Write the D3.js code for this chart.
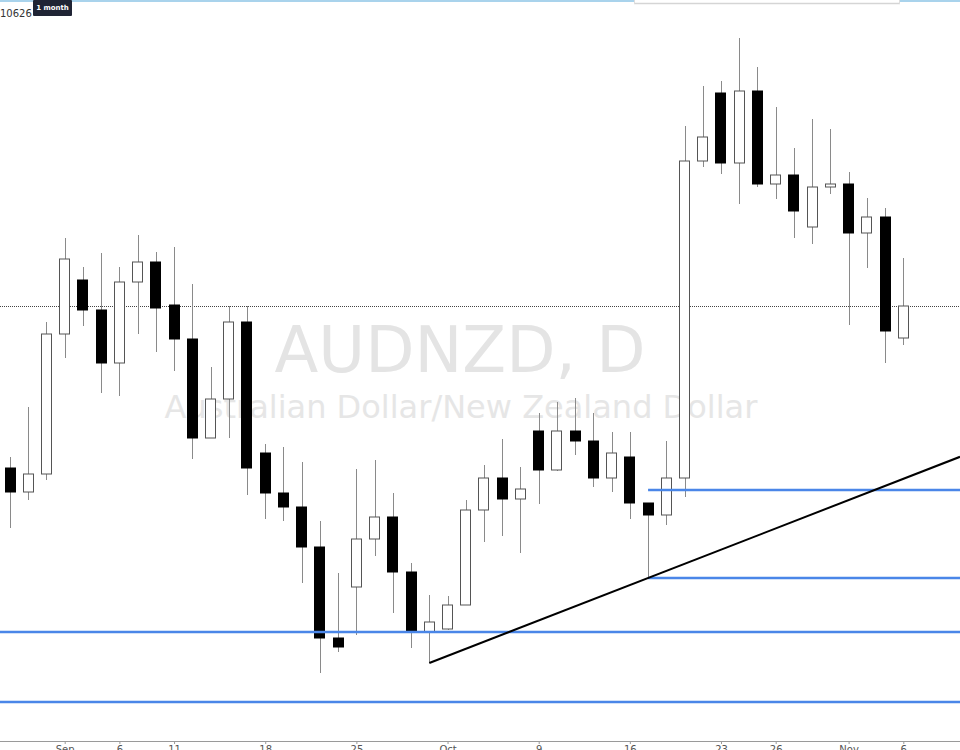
<!DOCTYPE html>
<html>
<head>
<meta charset="utf-8">
<script src="https://cdn.jsdelivr.net/npm/d3@7/dist/d3.min.js"></script>
<style>
  html, body { margin: 0; padding: 0; background: #fff; overflow: hidden; }
  svg { display: block; }
</style>
</head>
<body>
<svg id="chart" width="960" height="750"></svg>
<script>
// ---- data ----
const dates = ["2017-08-29","2017-08-30","2017-08-31","2017-09-01","2017-09-04","2017-09-05","2017-09-06","2017-09-07","2017-09-08",
  "2017-09-11","2017-09-12","2017-09-13","2017-09-14","2017-09-15","2017-09-18","2017-09-19","2017-09-20","2017-09-21","2017-09-22",
  "2017-09-25","2017-09-26","2017-09-27","2017-09-28","2017-09-29","2017-10-02","2017-10-03","2017-10-04","2017-10-05","2017-10-06",
  "2017-10-09","2017-10-10","2017-10-11","2017-10-12","2017-10-13","2017-10-16","2017-10-17","2017-10-18","2017-10-19","2017-10-20",
  "2017-10-23","2017-10-24","2017-10-25","2017-10-26","2017-10-27","2017-10-30","2017-10-31","2017-11-01","2017-11-02","2017-11-03","2017-11-06"];
const open  = [1.09336,1.09144,1.09288,1.10408,1.10840,1.10600,1.10176,1.10824,1.10984,1.10640,1.10368,1.09576,1.09888,1.10504,1.09456,1.09136,1.09024,1.08704,1.07976,
  1.08384,1.08768,1.08944,1.08504,1.08024,1.08048,1.08240,1.09000,1.09256,1.09088,1.09632,1.09320,1.09632,1.09552,1.09256,1.09424,1.09056,1.08960,1.09256,1.11792,
  1.12336,1.11776,1.12352,1.11608,1.11680,1.11264,1.11584,1.11608,1.11216,1.11344,1.10376];
const high  = [1.09424,1.09824,1.10504,1.11176,1.10944,1.11056,1.10944,1.11200,1.11064,1.11104,1.10808,1.10144,1.10632,1.10632,1.09528,1.09504,1.09384,1.08912,1.08496,
  1.09328,1.09400,1.09136,1.08576,1.08320,1.08312,1.09080,1.09360,1.09568,1.09344,1.09776,1.09864,1.09896,1.09776,1.09624,1.09624,1.09056,1.09552,1.12072,1.12392,
  1.12432,1.12776,1.12544,1.12224,1.11896,1.12128,1.12048,1.11704,1.11496,1.11416,1.11016];
const low   = [1.08856,1.09080,1.09240,1.10216,1.10472,1.09936,1.09912,1.10408,1.10264,1.10112,1.09408,1.09576,1.09576,1.09120,1.08928,1.08912,1.08416,1.07696,1.07864,
  1.08000,1.08632,1.08176,1.07896,1.07776,1.08040,1.08240,1.08744,1.08792,1.08656,1.09048,1.09312,1.09440,1.09184,1.09144,1.08928,1.08456,1.08880,1.09104,1.11744,
  1.11688,1.11448,1.11584,1.11488,1.11176,1.11128,1.11528,1.10480,1.10936,1.10176,1.10320];
const close = [1.09144,1.09288,1.10408,1.11008,1.10600,1.10176,1.10824,1.10984,1.10616,1.10368,1.09576,1.09888,1.10504,1.09336,1.09136,1.09024,1.08704,1.07976,1.07904,
  1.08768,1.08944,1.08504,1.08024,1.08104,1.08240,1.09000,1.09256,1.09088,1.09168,1.09320,1.09632,1.09552,1.09256,1.09456,1.09056,1.08960,1.09256,1.11792,1.11984,
  1.11776,1.12352,1.11608,1.11680,1.11392,1.11584,1.11608,1.11216,1.11344,1.10432,1.10632];

const tickDates  = ["2017-09-01","2017-09-06","2017-09-11","2017-09-18","2017-09-25","2017-10-02","2017-10-09","2017-10-16","2017-10-23","2017-10-26","2017-11-01","2017-11-06"];
const tickLabels = ["Sep","6","11","18","25","Oct","9","16","23","26","Nov","6"];

const levelPrices = [1.08024, 1.07464, 1.09160, 1.08456];
const levelStarts = [null, null, "2017-10-17", "2017-10-17"];

const trendDates  = ["2017-09-29", "2017-10-17"];
const trendPrices = [1.07776, 1.08456];

const lastPrice = 1.10632;
const symbolTitle = "AUDNZD, D";
const symbolDesc = "Australian Dollar/New Zealand Dollar";

// ---- build ----
const W = 960, H = 750;
const svg = d3.select("#chart");

const x = d3.scalePoint().domain(dates).range([10, 903.3]);
const y = d3.scaleLinear().domain([1.0708, 1.1308]).range([750, 0]);

const candles = dates.map((d, i) => ({ date: d, o: open[i], h: high[i], l: low[i], c: close[i] }));

// watermark
svg.append("text")
  .attr("x", 460).attr("y", 372)
  .attr("text-anchor", "middle")
  .attr("font-family", "DejaVu Sans, sans-serif")
  .attr("font-size", 64)
  .attr("fill", "#e4e4e4")
  .text(symbolTitle);
svg.append("text")
  .attr("x", 461).attr("y", 418)
  .attr("text-anchor", "middle")
  .attr("font-family", "DejaVu Sans, sans-serif")
  .attr("font-size", 32)
  .attr("fill", "#e6e6e6")
  .text(symbolDesc);

// last price dotted line
svg.append("line")
  .attr("x1", 0).attr("x2", W)
  .attr("y1", Math.round(y(lastPrice)) + 0.5).attr("y2", Math.round(y(lastPrice)) + 0.5)
  .attr("stroke", "#444").attr("stroke-width", 1)
  .attr("stroke-dasharray", "1,1");

// candles
const bw = 11;
const g = svg.append("g");
const cg = g.selectAll("g.candle").data(candles).join("g").attr("class", "candle");
cg.append("line")
  .attr("x1", d => Math.round(x(d.date)) + 0.5)
  .attr("x2", d => Math.round(x(d.date)) + 0.5)
  .attr("y1", d => y(d.h))
  .attr("y2", d => y(d.l))
  .attr("stroke", "#8a8a8a").attr("stroke-width", 1);
cg.append("rect")
  .attr("x", d => Math.round(x(d.date) - bw / 2) + 0.5)
  .attr("y", d => y(Math.max(d.o, d.c)))
  .attr("width", bw - 1)
  .attr("height", d => Math.max(1, Math.abs(y(d.o) - y(d.c))))
  .attr("fill", d => d.c < d.o ? "#000" : "#fff")
  .attr("stroke", d => d.c < d.o ? "#000" : "#555")
  .attr("stroke-width", 1);

// horizontal levels
levelPrices.forEach((p, i) => {
  svg.append("line")
    .attr("x1", levelStarts[i] ? x(levelStarts[i]) : 0)
    .attr("x2", W)
    .attr("y1", y(p)).attr("y2", y(p))
    .attr("stroke", "#4a86e8").attr("stroke-width", 2.5);
});

// trend line (ray)
const tx1 = x(trendDates[0]), ty1 = y(trendPrices[0]);
const tx2 = x(trendDates[1]), ty2 = y(trendPrices[1]);
const slope = (ty2 - ty1) / (tx2 - tx1);
svg.append("line")
  .attr("x1", tx1).attr("y1", ty1)
  .attr("x2", W).attr("y2", ty1 + slope * (W - tx1))
  .attr("stroke", "#000").attr("stroke-width", 2);

// time axis
const axisY = 741;
const axis = d3.axisBottom(x)
  .tickValues(tickDates)
  .tickFormat((d, i) => tickLabels[i])
  .tickSize(3)
  .tickSizeOuter(0);
const ag = svg.append("g").attr("transform", `translate(0,${axisY})`).call(axis);
ag.select(".domain").remove();
ag.append("line").attr("x1", 0).attr("x2", W).attr("y1", 0.5).attr("y2", 0.5).attr("stroke", "#9a9a9a");
ag.selectAll(".tick line").attr("stroke", "#9a9a9a");
ag.selectAll(".tick text")
  .attr("fill", "#555")
  .attr("font-family", "DejaVu Sans, sans-serif")
  .attr("font-size", 10)
  .attr("y", 5);

// top decorations
svg.append("rect").attr("x", 0).attr("y", 0).attr("width", W).attr("height", 2).attr("fill", "#a9d3ec");
const tb = svg.append("g");
tb.append("rect").attr("x", 634).attr("y", 0).attr("width", 266).attr("height", 3).attr("fill", "#fff");
tb.append("line").attr("x1", 634).attr("x2", 900).attr("y1", 3.5).attr("y2", 3.5).attr("stroke", "#d5d5d5").attr("stroke-width", 1.5);
tb.append("line").attr("x1", 634.5).attr("x2", 634.5).attr("y1", 0).attr("y2", 4).attr("stroke", "#ddd");
tb.append("line").attr("x1", 899.5).attr("x2", 899.5).attr("y1", 0).attr("y2", 4).attr("stroke", "#ddd");

svg.append("text")
  .attr("x", 0).attr("y", 17)
  .attr("font-family", "DejaVu Sans, sans-serif")
  .attr("font-size", 10)
  .attr("fill", "#333")
  .text("10626");
svg.append("rect").attr("x", 33).attr("y", 0).attr("width", 39).attr("height", 16).attr("rx", 1).attr("fill", "#1f2434");
svg.append("text")
  .attr("x", 52.5).attr("y", 10)
  .attr("text-anchor", "middle")
  .attr("font-family", "DejaVu Sans, sans-serif")
  .attr("font-size", 7)
  .attr("font-weight", "bold")
  .attr("fill", "#fff")
  .text("1 month");
</script>
</body>
</html>
